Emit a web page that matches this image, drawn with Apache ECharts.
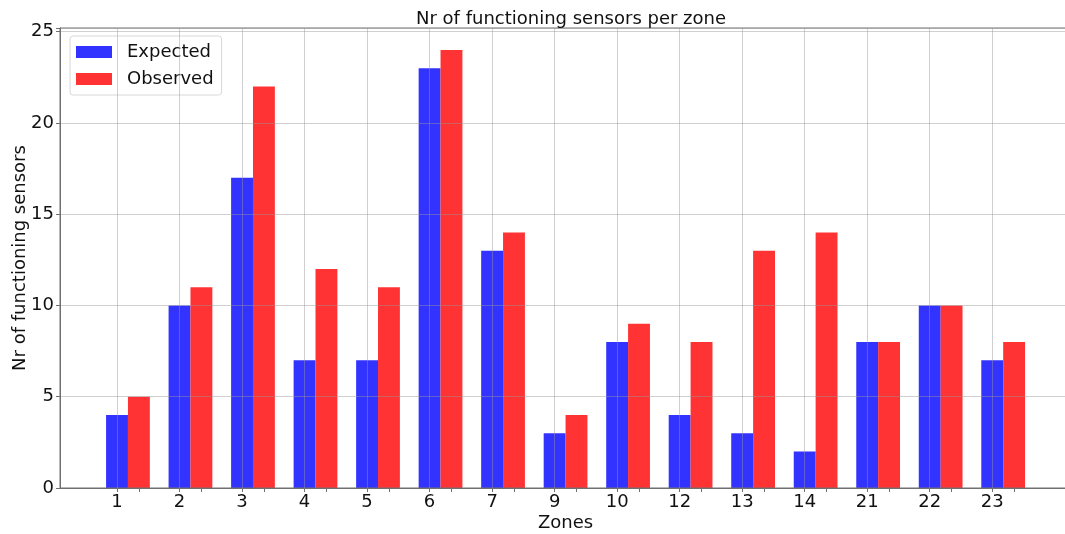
<!DOCTYPE html>
<html>
<head>
<meta charset="utf-8">
<script src="https://cdn.jsdelivr.net/npm/echarts@6/dist/echarts.min.js"></script>
<style>
  html, body { margin: 0; padding: 0; background: #fff; }
  #chart { width: 1065px; height: 534px; }
</style>
</head>
<body>
<div id="chart"></div>
<script>
// Zones and sensor counts per zone
const zones = ['1', '2', '3', '4', '5', '6', '7', '9', '10', '12', '13', '14', '21', '22', '23'];
const expected = [4, 10, 17, 7, 7, 23, 13, 3, 8, 4, 3, 2, 8, 10, 7];
const observed = [5, 11, 22, 12, 11, 24, 14, 4, 9, 8, 13, 14, 8, 10, 8];
const yTicks = [0, 5, 10, 15, 20, 25];

const BAR_W = 0.35;   // bar width in zone units
const FONT = 'DejaVu Sans';

const chart = echarts.init(document.getElementById('chart'), null, { renderer: 'canvas' });

const idx = zones.map((_, i) => i);
const xMin = -0.912, xMax = 15.26;
const gridLeft = 60, gridRight = -6;
const unitPx = (1065 - gridLeft - gridRight) / (xMax - xMin);

const gridColor = 'rgba(150,150,150,0.45)';
const spine = '#707070';

chart.setOption({
  animation: false,
  title: {
    text: 'Nr of functioning sensors per zone',
    left: 411, top: 5,
    textStyle: { fontFamily: FONT, fontSize: 18, fontWeight: 'normal', color: '#111' }
  },
  legend: {
    orient: 'vertical',
    left: 70, top: 36,
    padding: [7, 8, 7, 6],
    itemGap: 9,
    itemWidth: 36, itemHeight: 12,
    backgroundColor: 'rgba(255,255,255,0.8)',
    borderColor: '#d8d8d8', borderWidth: 1, borderRadius: 3,
    textStyle: { fontFamily: FONT, fontSize: 18, color: '#111', padding: [0, 0, 0, 10] },
    data: [
      { name: 'Expected', icon: 'rect' },
      { name: 'Observed', icon: 'rect' }
    ]
  },
  grid: {
    left: gridLeft, right: gridRight, top: 28, bottom: 46,
    containLabel: false, outerBoundsMode: 'none',
    show: true, borderColor: spine, borderWidth: 1, z: 4
  },
  xAxis: {
    type: 'value',
    min: xMin, max: xMax,
    name: 'Zones', nameLocation: 'middle', nameGap: 26, nameMoveOverlap: false,
    nameTextStyle: { fontFamily: FONT, fontSize: 18, color: '#111' },
    axisLine: { show: true, onZero: false, lineStyle: { color: spine, width: 1 } },
    axisTick: {
      show: true, length: 4, lineStyle: { color: spine },
      customValues: idx.concat(idx.map(i => i + BAR_W))
    },
    axisLabel: {
      customValues: idx,
      formatter: v => zones[Math.round(v)] || '',
      fontFamily: FONT, fontSize: 18, color: '#111', margin: 5
    },
    splitLine: { show: false },
    z: 4
  },
  yAxis: {
    type: 'value',
    min: 0, max: 25.2, interval: 5,
    name: 'Nr of functioning sensors', nameLocation: 'middle', nameGap: 31, nameMoveOverlap: false,
    nameTextStyle: { fontFamily: FONT, fontSize: 18, color: '#111' },
    axisLine: { show: true, onZero: false, lineStyle: { color: spine, width: 1 } },
    axisTick: { show: true, length: 4, lineStyle: { color: spine } },
    axisLabel: {
      customValues: yTicks,
      fontFamily: FONT, fontSize: 18, color: '#111', margin: 6
    },
    splitLine: { show: true, lineStyle: { color: gridColor, width: 1 } },
    z: 4
  },
  series: [
    {
      name: 'Expected',
      type: 'bar',
      barWidth: BAR_W * unitPx,
      barGap: '-100%',
      itemStyle: { color: '#3333ff' },
      data: expected.map((v, i) => [i, v]),
      z: 2,
      markLine: {
        silent: true,
        symbol: 'none',
        label: { show: false },
        lineStyle: { color: gridColor, width: 1, type: 'solid' },
        data: idx.map(i => ({ xAxis: i })),
        z: 4
      }
    },
    {
      name: 'Observed',
      type: 'bar',
      barWidth: BAR_W * unitPx,
      barGap: '-100%',
      itemStyle: { color: '#ff3333' },
      data: observed.map((v, i) => [i + BAR_W, v]),
      z: 2
    }
  ]
});
</script>
</body>
</html>
